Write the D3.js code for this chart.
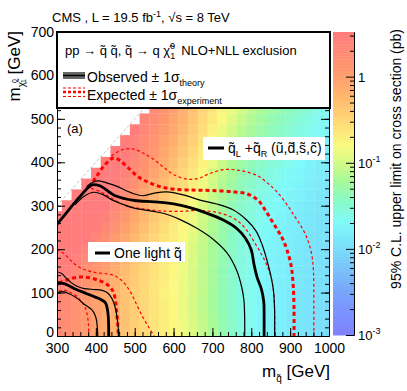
<!DOCTYPE html>
<html>
<head>
<meta charset="utf-8">
<script src="https://cdn.jsdelivr.net/npm/d3@7"></script>
<style>
  body { margin: 0; background: #fff; }
  svg { display: block; font-family: "Liberation Sans", Arial, Helvetica, sans-serif; }
</style>
</head>
<body>
<svg id="chart" width="407" height="391"></svg>
<script>
// squark mass bins (GeV) and LSP mass bins (GeV), 25 GeV cells
var mqBins = [300,325,350,375,400,425,450,475,500,525,550,575,600,625,650,675,700,725,750,775,800,825,850,875,900,925,950,975,1000];
var mchiBins = [0,25,50,75,100,125,150,175,200,225,250,275,300,325,350,375,400,425,450,475,500,525];

// log10 of the 95% CL upper limit (pb), one row per mchi bin, one column per mq bin
var limitLog = [
  [0.35,0.25,0.15,0.05,-0.03,-0.11,-0.21,-0.32,-0.42,-0.51,-0.61,-0.69,-0.77,-0.85,-0.95,-1.07,-1.20,-1.34,-1.46,-1.57,-1.65,-1.73,-1.78,-1.82,-1.86,-1.90,-1.94,-1.97,-2.00],
  [0.35,0.25,0.15,0.05,-0.03,-0.11,-0.21,-0.32,-0.42,-0.51,-0.61,-0.69,-0.77,-0.85,-0.95,-1.07,-1.20,-1.34,-1.46,-1.57,-1.65,-1.73,-1.78,-1.82,-1.86,-1.90,-1.94,-1.97,-2.00],
  [0.36,0.26,0.16,0.06,-0.02,-0.10,-0.20,-0.32,-0.42,-0.51,-0.61,-0.70,-0.78,-0.87,-0.97,-1.09,-1.21,-1.35,-1.47,-1.57,-1.65,-1.73,-1.78,-1.82,-1.86,-1.90,-1.94,-1.97,-2.00],
  [0.39,0.28,0.17,0.07,-0.01,-0.10,-0.20,-0.31,-0.42,-0.52,-0.62,-0.70,-0.78,-0.87,-0.98,-1.10,-1.22,-1.36,-1.47,-1.58,-1.65,-1.73,-1.78,-1.82,-1.86,-1.90,-1.94,-1.97,-2.00],
  [0.44,0.32,0.20,0.10,0.01,-0.09,-0.19,-0.31,-0.42,-0.51,-0.61,-0.71,-0.79,-0.87,-0.97,-1.09,-1.22,-1.36,-1.48,-1.58,-1.66,-1.73,-1.78,-1.82,-1.86,-1.90,-1.94,-1.97,-2.00],
  [0.53,0.39,0.26,0.14,0.04,-0.06,-0.17,-0.30,-0.40,-0.50,-0.61,-0.69,-0.79,-0.87,-0.97,-1.09,-1.22,-1.36,-1.47,-1.57,-1.65,-1.72,-1.77,-1.81,-1.85,-1.89,-1.93,-1.96,-1.99],
  [0.65,0.49,0.34,0.20,0.10,-0.01,-0.14,-0.27,-0.39,-0.49,-0.59,-0.69,-0.77,-0.86,-0.97,-1.09,-1.22,-1.36,-1.47,-1.57,-1.64,-1.71,-1.76,-1.80,-1.84,-1.88,-1.92,-1.95,-1.98],
  [0.80,0.62,0.45,0.30,0.17,0.05,-0.09,-0.22,-0.35,-0.46,-0.57,-0.68,-0.76,-0.86,-0.96,-1.09,-1.21,-1.34,-1.46,-1.56,-1.63,-1.71,-1.76,-1.80,-1.84,-1.88,-1.92,-1.95,-1.98],
  [0.95,0.76,0.58,0.41,0.26,0.14,-0.01,-0.17,-0.30,-0.42,-0.53,-0.64,-0.74,-0.83,-0.95,-1.08,-1.21,-1.34,-1.44,-1.55,-1.62,-1.69,-1.75,-1.79,-1.83,-1.87,-1.92,-1.95,-1.98],
  [1.09,0.90,0.71,0.53,0.37,0.23,0.07,-0.09,-0.24,-0.37,-0.50,-0.61,-0.70,-0.81,-0.93,-1.06,-1.19,-1.32,-1.44,-1.53,-1.61,-1.68,-1.73,-1.78,-1.82,-1.86,-1.91,-1.94,-1.97],
  [1.21,1.02,0.84,0.65,0.49,0.33,0.17,0.00,-0.16,-0.30,-0.43,-0.55,-0.67,-0.78,-0.89,-1.03,-1.17,-1.30,-1.41,-1.51,-1.59,-1.67,-1.72,-1.77,-1.81,-1.85,-1.90,-1.93,-1.96],
  [1.32,1.13,0.95,0.77,0.60,0.44,0.26,0.08,-0.08,-0.23,-0.37,-0.49,-0.61,-0.73,-0.86,-1.00,-1.14,-1.27,-1.39,-1.49,-1.56,-1.64,-1.70,-1.75,-1.80,-1.84,-1.88,-1.92,-1.95],
  [null,1.22,1.04,0.87,0.70,0.54,0.36,0.18,0.01,-0.14,-0.30,-0.43,-0.56,-0.68,-0.81,-0.95,-1.10,-1.24,-1.36,-1.46,-1.54,-1.61,-1.67,-1.72,-1.77,-1.82,-1.87,-1.90,-1.94],
  [null,null,1.13,0.96,0.80,0.63,0.46,0.27,0.10,-0.06,-0.22,-0.35,-0.49,-0.61,-0.76,-0.91,-1.05,-1.20,-1.31,-1.42,-1.51,-1.59,-1.65,-1.70,-1.75,-1.79,-1.84,-1.88,-1.92],
  [null,null,null,1.03,0.88,0.72,0.54,0.35,0.18,0.02,-0.15,-0.28,-0.42,-0.55,-0.70,-0.86,-1.00,-1.15,-1.27,-1.38,-1.46,-1.54,-1.61,-1.67,-1.72,-1.77,-1.82,-1.86,-1.90],
  [null,null,null,null,0.95,0.80,0.61,0.43,0.26,0.10,-0.06,-0.21,-0.36,-0.49,-0.64,-0.80,-0.95,-1.10,-1.22,-1.33,-1.42,-1.50,-1.57,-1.63,-1.69,-1.74,-1.80,-1.83,-1.87],
  [null,null,null,null,null,0.86,0.69,0.50,0.33,0.17,0.01,-0.14,-0.28,-0.43,-0.57,-0.73,-0.89,-1.04,-1.17,-1.28,-1.37,-1.45,-1.52,-1.58,-1.64,-1.70,-1.76,-1.81,-1.85],
  [null,null,null,null,null,null,0.75,0.56,0.40,0.24,0.08,-0.08,-0.22,-0.36,-0.51,-0.68,-0.84,-0.99,-1.11,-1.22,-1.31,-1.40,-1.48,-1.54,-1.60,-1.66,-1.72,-1.77,-1.81],
  [null,null,null,null,null,null,null,0.62,0.46,0.29,0.13,-0.01,-0.16,-0.30,-0.45,-0.62,-0.78,-0.93,-1.06,-1.18,-1.26,-1.35,-1.43,-1.50,-1.56,-1.62,-1.68,-1.73,-1.78],
  [null,null,null,null,null,null,null,null,0.50,0.36,0.19,0.04,-0.09,-0.24,-0.40,-0.56,-0.72,-0.87,-1.00,-1.12,-1.21,-1.29,-1.37,-1.44,-1.51,-1.58,-1.64,-1.69,-1.74],
  [null,null,null,null,null,null,null,null,null,0.39,0.24,0.10,-0.05,-0.19,-0.35,-0.51,-0.66,-0.82,-0.94,-1.06,-1.16,-1.24,-1.32,-1.39,-1.46,-1.53,-1.59,-1.65,-1.70],
  [null,null,null,null,null,null,null,null,null,null,0.28,0.14,0.00,-0.15,-0.30,-0.47,-0.62,-0.76,-0.89,-1.00,-1.10,-1.19,-1.27,-1.34,-1.41,-1.48,-1.55,-1.60,-1.66]
];

// exclusion contours, [m_squark, m_LSP] in GeV
// q_L + q_R (u,d,s,c) : observed / +-1 sigma theory, expected / +-1 sigma experiment
var obsAll     = [[300,257],[330,290],[360,322],[390,348],[410,346],[450,323],[500,312],[550,309],[600,304],[640,296],[685,283],[728,267],[762,248],[785,225],[800,198],[807,165],[815,135],[826,108],[832,80],[833,40],[833,0]];
var obsAllUp   = [[376,344],[392,354],[408,357],[430,352],[453,345],[490,330],[520,323],[550,329],[582,332],[625,325],[668,313],[711,304],[754,290],[788,267],[812,242],[828,210],[840,175],[850,140],[857,105],[860,60],[860,0]];
var obsAllDown = [[346,302],[370,322],[395,331],[420,325],[440,314],[470,303],[496,295],[548,287],[580,281],[617,268],[660,248],[700,224],[737,192],[762,152],[775,114],[781,83],[783,40],[783,0]];
var expAll     = [[383,342],[400,365],[423,394],[445,410],[462,404],[482,388],[510,366],[535,354],[565,344],[600,338],[650,336],[700,335],[754,332],[790,327],[818,312],[840,284],[862,252],[880,225],[893,195],[903,160],[908,114],[910,60],[910,0]];
var expAllUp   = [[440,415],[465,428],[494,431],[520,422],[548,407],[575,388],[600,372],[634,361],[665,363],[690,373],[728,383],[771,381],[814,370],[842,352],[866,332],[890,305],[912,275],[930,250],[945,222],[955,190],[960,150],[961,80],[961,0]];
var expAllDown = [[388,340],[412,332],[436,320],[460,307],[482,299],[520,293],[565,288],[617,287],[668,289],[720,283],[762,267],[788,244],[810,213],[827,187],[840,163],[851,135],[857,105],[860,60],[860,0]];
// one light squark
var obsOne     = [[300,123],[320,120],[350,107],[375,98],[400,89],[415,83],[425,76],[430,60],[432,44],[433,20],[433,0]];
var obsOneUp   = [[300,148],[312,144],[322,135],[335,124],[350,115],[370,109],[400,107],[420,104],[432,98],[442,85],[450,65],[455,40],[458,15],[458,0]];
var obsOneDown = [[300,100],[315,102],[330,98],[350,88],[372,72],[390,60],[398,48],[402,35],[404,15],[405,0]];
var expOne     = [[305,122],[320,127],[340,133],[360,136],[385,134],[410,127],[430,118],[443,105],[450,85],[453,60],[456,30],[458,0]];
var expOneUp   = [[300,200],[320,188],[345,166],[370,153],[400,146],[430,143],[450,138],[470,125],[490,100],[505,72],[520,45],[535,22],[550,0]];
var expOneDown = [[305,103],[320,105],[335,100],[350,92],[362,80],[372,66],[378,48],[381,25],[382,0]];

var xTicks = [300,400,500,600,700,800,900,1000];
var yTicks = [0,100,200,300,400,500,600,700];
var zTicks = [0.001,0.01,0.1,1];
var zTickLabels = [["10","-3"],["10","-2"],["10","-1"],["1",""]];

// palette stops (log10 pb -> colour)
var paletteLog = [-3.0,-2.5,-2.0,-1.7,-1.4,-1.2,-0.95,-0.8,-0.5,-0.2,0.1,0.52];
var paletteCol = ["#8080ff","#78a5fa","#78dcfa","#80fafa","#8cfabe","#aafa96","#dcfa82","#fafa80","#ffd778","#ffb46e","#ff966e","#ff7d7d"];

var svg = d3.select("#chart");
var margin = {left: 57, right: 329, top: 32, bottom: 336};

var x = d3.scaleLinear().domain([300, 1000]).range([margin.left, margin.right]);
var y = d3.scaleLinear().domain([0, 700]).range([margin.bottom, margin.top]);
var z = d3.scaleLog().domain([0.001, 3.3]).range([335, 32]);
var colour = d3.scaleLinear().domain(paletteLog).range(paletteCol).clamp(true);

svg.append("clipPath").attr("id", "plotclip")
  .append("rect")
  .attr("x", margin.left).attr("y", margin.top)
  .attr("width", margin.right - margin.left).attr("height", margin.bottom - margin.top);

var plot = svg.append("g").attr("clip-path", "url(#plotclip)");

// heat map cells
var cells = [];
limitLog.forEach(function(row, i) {
  row.forEach(function(v, j) {
    if (v !== null) cells.push({mq: mqBins[j], mchi: mchiBins[i], v: v});
  });
});
plot.selectAll("rect.cell")
  .data(cells)
  .enter().append("rect")
  .attr("class", "cell")
  .attr("x", function(d) { return x(d.mq - 12.5); })
  .attr("y", function(d) { return y(d.mchi + 12.5); })
  .attr("width", function(d) { return x(d.mq + 12.5) - x(d.mq - 12.5) + 0.3; })
  .attr("height", function(d) { return y(d.mchi - 12.5) - y(d.mchi + 12.5) + 0.3; })
  .attr("fill", function(d) { return colour(d.v); });

// diagonal m_LSP = m_squark
plot.append("line")
  .attr("x1", x(300)).attr("y1", y(300))
  .attr("x2", x(700)).attr("y2", y(700))
  .attr("stroke", "#b4b4b4").attr("stroke-width", 0.8)
  .attr("stroke-dasharray", "3,2");

var line = d3.line()
  .x(function(d) { return x(d[0]); })
  .y(function(d) { return y(d[1]); })
  .curve(d3.curveCatmullRom.alpha(0.5));

function contour(pts, colr, w, dash) {
  plot.append("path")
    .attr("d", line(pts))
    .attr("fill", "none")
    .attr("stroke", colr)
    .attr("stroke-width", w)
    .attr("stroke-dasharray", dash);
}

[[expAllUp, 1.2, "3,2.5"], [expAllDown, 1.2, "3,2.5"], [expAll, 3, "4,3"],
 [expOneUp, 1.2, "3,2.5"], [expOneDown, 1.2, "3,2.5"], [expOne, 3, "4,3"]].forEach(function(c) {
  contour(c[0], "#ff0000", c[1], c[2]);
});
[[obsAllUp, 1.2], [obsAllDown, 1.2], [obsAll, 2.8],
 [obsOneUp, 1.2], [obsOneDown, 1.2], [obsOne, 2.8]].forEach(function(c) {
  contour(c[0], "#000", c[1], null);
});

// axes: ticks pointing inwards
var minorX = d3.range(300, 1001, 20);
var minorY = d3.range(0, 701, 20);

svg.append("g")
  .attr("transform", "translate(0," + margin.bottom + ")")
  .call(d3.axisBottom(x).tickValues(minorX).tickSize(-4).tickSizeOuter(0).tickFormat(""));
var gx = svg.append("g")
  .attr("transform", "translate(0," + margin.bottom + ")")
  .call(d3.axisBottom(x).tickValues(xTicks).tickSize(-8).tickSizeOuter(0).tickPadding(7).tickFormat(d3.format("d")));

svg.append("g")
  .attr("transform", "translate(" + margin.left + ",0)")
  .call(d3.axisLeft(y).tickValues(minorY).tickSize(-4).tickSizeOuter(0).tickFormat(""));
var gy = svg.append("g")
  .attr("transform", "translate(" + margin.left + ",0)")
  .call(d3.axisLeft(y).tickValues(yTicks).tickSize(-8).tickSizeOuter(0).tickPadding(3));
gy.selectAll(".tick").filter(function(d) { return d === 0; }).select("text").attr("dy", "0.05em");

svg.append("g")
  .attr("transform", "translate(" + margin.right + ",0)")
  .call(d3.axisRight(y).tickValues(minorY).tickSize(-4).tickSizeOuter(0).tickFormat(""));
svg.append("g")
  .attr("transform", "translate(" + margin.right + ",0)")
  .call(d3.axisRight(y).tickValues(yTicks).tickSize(-8).tickSizeOuter(0).tickFormat(""));

svg.selectAll(".tick line, .domain").attr("stroke", "#000").attr("stroke-width", 1);
[gx, gy].forEach(function(g) {
  g.selectAll("text").attr("font-size", 14).attr("fill", "#000")
    .attr("font-family", "Liberation Sans, Arial, sans-serif");
});

// inline labels
function labelBox(x0, y0, w, h) {
  svg.append("rect").attr("x", x0).attr("y", y0).attr("width", w).attr("height", h).attr("fill", "#fff");
}
labelBox(203, 137, 122, 23);
svg.append("line").attr("x1", 208).attr("x2", 224).attr("y1", 148).attr("y2", 148)
  .attr("stroke", "#000").attr("stroke-width", 3);
var t1 = svg.append("text").attr("x", 228).attr("y", 153).attr("font-size", 14);
t1.append("tspan").text("q\u0303");
t1.append("tspan").attr("font-size", 9).attr("dy", 4).text("L");
t1.append("tspan").attr("dy", -4).text(" +q\u0303");
t1.append("tspan").attr("font-size", 9).attr("dy", 4).text("R");
t1.append("tspan").attr("dy", -4).text(" (u\u0303,d\u0303,s\u0303,c\u0303)");

labelBox(88, 242, 97, 20);
svg.append("line").attr("x1", 95).attr("x2", 110).attr("y1", 253).attr("y2", 253)
  .attr("stroke", "#000").attr("stroke-width", 3);
svg.append("text").attr("x", 114).attr("y", 258).attr("font-size", 14).text("One light q\u0303");

svg.append("text").attr("x", 67).attr("y", 133).attr("font-size", 13).text("(a)");

// legend
svg.append("rect")
  .attr("x", margin.left).attr("y", margin.top)
  .attr("width", margin.right - margin.left + 1).attr("height", 76)
  .attr("fill", "#fff").attr("stroke", "#000").attr("stroke-width", 2);

var l1 = svg.append("text").attr("x", 65).attr("y", 55).attr("font-size", 13);
l1.append("tspan").text("pp \u2192 q\u0303 q\u0303, q\u0303 \u2192 q \u03c7\u0303");
l1.append("tspan").attr("font-size", 9).attr("dy", -6).text("0");
l1.append("tspan").attr("font-size", 9).attr("dx", -5).attr("dy", 10).text("1");
l1.append("tspan").attr("dy", -4).attr("dx", 6).text("NLO+NLL exclusion");

[[73, 1.2], [75.5, 2.4], [78, 1.2]].forEach(function(s) {
  svg.append("line").attr("x1", 63).attr("x2", 85).attr("y1", s[0]).attr("y2", s[0])
    .attr("stroke", "#000").attr("stroke-width", s[1]);
});
var l2 = svg.append("text").attr("x", 87).attr("y", 82).attr("font-size", 14);
l2.append("tspan").text("Observed \u00b1 1\u03c3");
l2.append("tspan").attr("font-size", 9).attr("dy", 4).text("theory");

[[88, 1.2], [92, 2.4], [96.5, 1.2]].forEach(function(s) {
  svg.append("line").attr("x1", 63).attr("x2", 85).attr("y1", s[0]).attr("y2", s[0])
    .attr("stroke", "#ff0000").attr("stroke-width", s[1]).attr("stroke-dasharray", "3,2");
});
var l3 = svg.append("text").attr("x", 87).attr("y", 100).attr("font-size", 14);
l3.append("tspan").text("Expected \u00b1 1\u03c3");
l3.append("tspan").attr("font-size", 9).attr("dy", 4).text("experiment");

// header
var hd = svg.append("text").attr("x", 52).attr("y", 22).attr("font-size", 13);
hd.append("tspan").text("CMS , L = 19.5 fb");
hd.append("tspan").attr("font-size", 9).attr("dy", -5).text("-1");
hd.append("tspan").attr("dy", 5).text(", \u221as = 8 TeV");

// axis titles
var xt = svg.append("text").attr("x", 330).attr("y", 377).attr("text-anchor", "end").attr("font-size", 17);
xt.append("tspan").text("m");
xt.append("tspan").attr("font-size", 10).attr("dy", 5).text("q\u0303");
xt.append("tspan").attr("dy", -5).text(" [GeV]");

var yt = svg.append("text").attr("transform", "translate(20,31) rotate(-90)")
  .attr("text-anchor", "end").attr("font-size", 17);
yt.append("tspan").text("m");
yt.append("tspan").attr("font-size", 10).attr("dy", 5).text("\u03c7\u0303");
yt.append("tspan").attr("font-size", 7).attr("dy", -8).attr("dx", -1).text("0");
yt.append("tspan").attr("font-size", 7).attr("dy", 9).attr("dx", -4).text("1");
yt.append("tspan").attr("dy", -6).text(" [GeV]");

// colour bar
var cbX = 333, cbW = 21;
var cbSteps = d3.range(0, 100);
svg.selectAll("rect.cb")
  .data(cbSteps)
  .enter().append("rect")
  .attr("class", "cb")
  .attr("x", cbX)
  .attr("width", cbW)
  .attr("y", function(i) { return 32 + i * 303 / 100; })
  .attr("height", 303 / 100 + 0.5)
  .attr("fill", function(i) { return colour(Math.log10(3.3) - (i + 0.5) * (Math.log10(3.3) + 3) / 100); });

var zMinor = [];
[0.001, 0.01, 0.1, 1].forEach(function(dec) {
  d3.range(2, 10).forEach(function(k) { if (dec * k <= 3.3) zMinor.push(dec * k); });
});
svg.append("g")
  .attr("transform", "translate(" + (cbX + cbW) + ",0)")
  .call(d3.axisRight(z).tickValues(zMinor).tickSize(-4).tickSizeOuter(0).tickFormat(""));
svg.append("g")
  .attr("transform", "translate(" + (cbX + cbW) + ",0)")
  .call(d3.axisRight(z).tickValues(zTicks).tickSize(-8).tickSizeOuter(0).tickFormat(""));
svg.selectAll(".tick line, .domain").attr("stroke", "#000").attr("stroke-width", 1);

zTicks.forEach(function(v, i) {
  var t = svg.append("text").attr("x", cbX + cbW + 4).attr("y", z(v) + 5).attr("font-size", 13);
  t.append("tspan").text(zTickLabels[i][0]);
  if (zTickLabels[i][1]) t.append("tspan").attr("font-size", 9).attr("dy", -6).text(zTickLabels[i][1]);
});

svg.append("text").attr("transform", "translate(401,29) rotate(-90)")
  .attr("text-anchor", "end").attr("font-size", 14)
  .text("95% C.L. upper limit on cross section (pb)");
</script>
</body>
</html>
